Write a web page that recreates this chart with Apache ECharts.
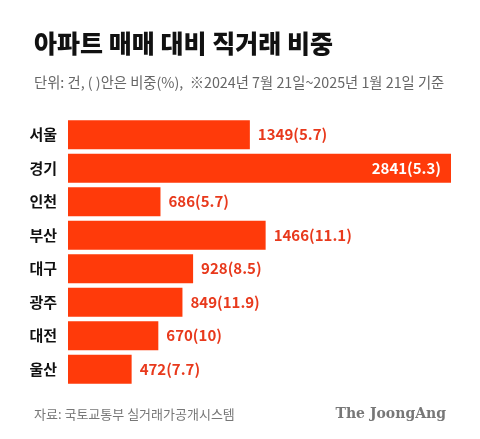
<!DOCTYPE html>
<html><head><meta charset="utf-8">
<script src="https://cdn.jsdelivr.net/npm/echarts@6/dist/echarts.min.js"></script>
<style>html,body{margin:0;padding:0;background:#fff}#c{width:480px;height:439px}</style>
</head><body><div id="c"></div>
<script>
var categories = ['서울','경기','인천','부산','대구','광주','대전','울산'];
var counts = [1349,2841,686,1466,928,849,670,472];
var shares = ['5.7','5.3','5.7','11.1','8.5','11.9','10','7.7'];
var F = '"Noto Sans CJK KR", "Noto Sans", sans-serif';
var data = counts.map(function(v,i){
  var d = {value:v};
  if (i===1) d.label = {position:'insideRight', distance:10, color:'#ffffff'};
  return d;
});
var chart = echarts.init(document.getElementById('c'), null, {renderer:'canvas'});
chart.setOption({
  backgroundColor:'#ffffff',
  animation:false,
  title:[
    {text:'아파트 매매 대비 직거래 비중', left:29, top:26, textStyle:{fontFamily:F, fontSize:25, fontWeight:900, color:'#111'}},
    {text:'단위: 건, ( )안은 비중(%),  ※2024년 7월 21일~2025년 1월 21일 기준', left:29, top:70, textStyle:{fontFamily:F, fontSize:14.3, fontWeight:'normal', color:'#666'}},
    {text:'자료: 국토교통부 실거래가공개시스템', left:29, top:403, textStyle:{fontFamily:F, fontSize:13, fontWeight:'normal', color:'#777'}},
    {text:'The JoongAng', right:29, top:402, textStyle:{fontFamily:'"DejaVu Serif", "Liberation Serif", serif', fontSize:14, fontWeight:'bold', color:'#777'}}
  ],
  grid:{left:68, right:29, top:118, height:268, containLabel:false},
  xAxis:{type:'value', min:0, max:2841, show:false},
  yAxis:{type:'category', data:categories, inverse:true,
    axisLine:{show:false}, axisTick:{show:false},
    axisLabel:{margin:11, fontFamily:F, fontSize:15, fontWeight:'bold', color:'#111'}},
  series:[{
    type:'bar', data:data, barWidth:29,
    itemStyle:{color:'#ff3a0a'},
    label:{show:true, position:'right', distance:8, fontFamily:F, fontSize:15, fontWeight:'bold', color:'#e8391c',
      formatter:function(p){return p.value + '(' + shares[p.dataIndex] + ')';}}
  }]
});
</script></body></html>
